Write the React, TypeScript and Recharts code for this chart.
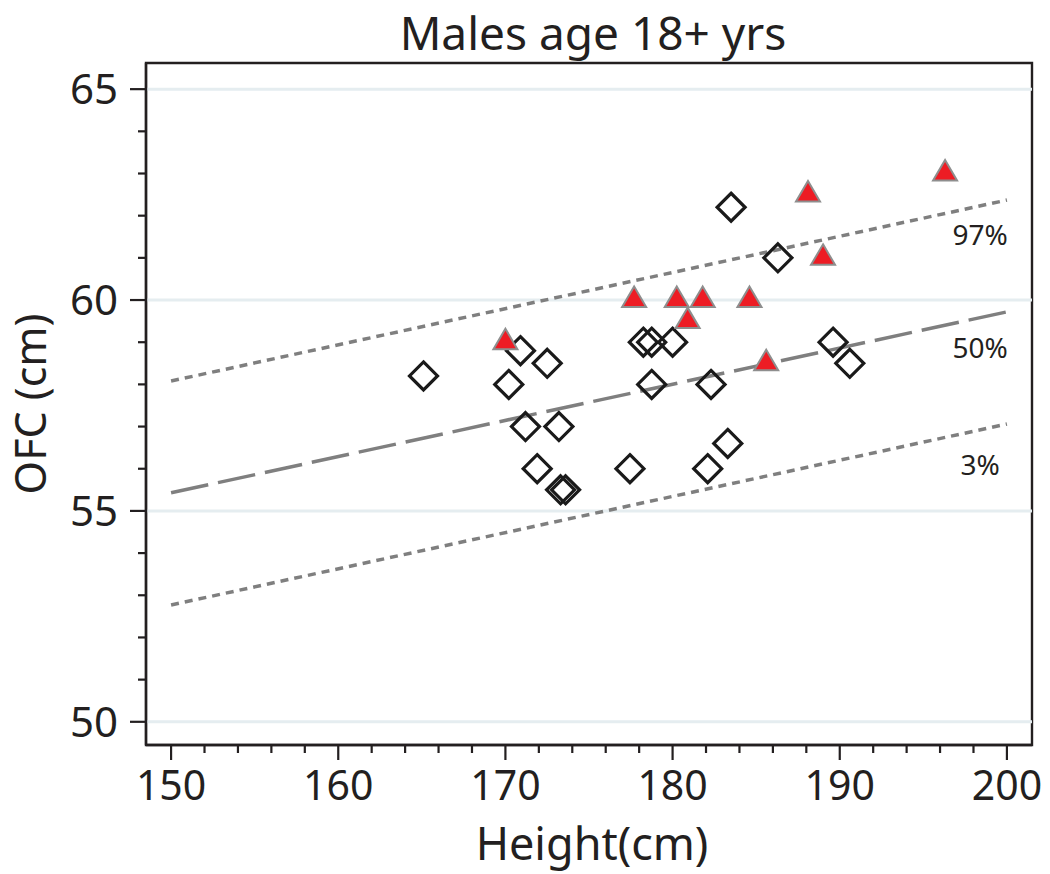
import React from 'react';
import {
  ScatterChart,
  Scatter,
  XAxis,
  YAxis,
  ReferenceLine,
  ReferenceArea,
  ReferenceDot,
} from 'recharts';

// ---------- data ----------
const diamondX = [165.1, 170.2, 170.9, 172.5, 171.2, 173.2, 171.9, 173.3, 173.6, 177.45, 178.25, 178.75, 180.0, 178.75, 182.3, 182.1, 183.3, 183.5, 186.3, 189.6, 190.6];
const diamondY = [58.2, 58.0, 58.8, 58.5, 57.0, 57.0, 56.0, 55.5, 55.5, 56.0, 59.0, 59.0, 59.0, 58.0, 58.0, 56.0, 56.6, 62.2, 61.0, 59.0, 58.5];

const triangleX = [170.0, 177.7, 180.25, 181.8, 184.6, 180.9, 185.6, 188.1, 189.0, 196.3];
const triangleY = [59.0, 60.0, 60.0, 60.0, 60.0, 59.5, 58.5, 62.5, 61.0, 63.0];

const percentileNames = ['97%', '50%', '3%'];
const percentileStartX = 150;
const percentileEndX = 200;
const percentileStartY = [58.08, 55.43, 52.77];
const percentileEndY = [62.37, 59.72, 57.06];
const percentileLabelX = [198.4, 198.4, 198.4];
const percentileLabelY = [61.54, 58.86, 56.09];

const xTicks = [150, 152, 154, 156, 158, 160, 162, 164, 166, 168, 170, 172, 174, 176, 178, 180, 182, 184, 186, 188, 190, 192, 194, 196, 198, 200];
const yTicks = [50, 51, 52, 53, 54, 55, 56, 57, 58, 59, 60, 61, 62, 63, 64, 65];
const gridValues = [50, 55, 60, 65];

const xDomain = [148.5, 201.5];
const yDomain = [49.45, 65.62];

const title = 'Males age 18+ yrs';
const xLabel = 'Height(cm)';
const yLabel = 'OFC (cm)';

// ---------- build series ----------
const diamonds = diamondX.map((x, i) => ({ x, y: diamondY[i] }));
const triangles = triangleX.map((x, i) => ({ x, y: triangleY[i] }));

const FONT = '"Noto Sans", "Open Sans", sans-serif';
const INK = '#231f20';

const XTick = (props: any) => {
  const { x, y, payload } = props;
  const major = payload.value % 10 === 0;
  return (
    <g>
      <line x1={x} x2={x} y1={y} y2={y + (major ? 15 : 8)} stroke={INK} strokeWidth={2.2} />
      {major && (
        <text x={x} y={y + 55} textAnchor="middle" fontSize={41} fontFamily={FONT} fill={INK}>
          {payload.value}
        </text>
      )}
    </g>
  );
};

const YTick = (props: any) => {
  const { x, y, payload } = props;
  const major = payload.value % 5 === 0;
  return (
    <g>
      <line x1={x} x2={x - (major ? 16 : 8)} y1={y} y2={y} stroke={INK} strokeWidth={2.2} />
      {major && (
        <text x={x - 28} y={y + 15} textAnchor="end" fontSize={42} fontFamily={FONT} fill={INK}>
          {payload.value}
        </text>
      )}
    </g>
  );
};

const Diamond = (props: any) => {
  const { cx, cy } = props;
  const r = 14;
  return (
    <polygon
      points={`${cx},${cy - r} ${cx + r},${cy} ${cx},${cy + r} ${cx - r},${cy}`}
      fill="none"
      stroke="#1a1a1a"
      strokeWidth={3.2}
    />
  );
};

const Triangle = (props: any) => {
  const { cx, cy } = props;
  const hw = 12;
  return (
    <polygon
      points={`${cx},${cy - 13.5} ${cx + hw},${cy + 7} ${cx - hw},${cy + 7}`}
      fill="#ed1c24"
      stroke="#8e8e8e"
      strokeWidth={2}
      strokeLinejoin="miter"
    />
  );
};

export default function App() {
  return (
    <div style={{ position: 'absolute', left: 0, top: 0, width: 1050, height: 874, background: '#fff' }}>
      <ScatterChart width={1050} height={874} margin={{ top: 63, right: 18, bottom: 0, left: 0 }}>
        <XAxis
          type="number"
          dataKey="x"
          domain={xDomain}
          ticks={xTicks}
          interval={0}
          allowDataOverflow
          height={129}
          tickLine={false}
          tickSize={0}
          tickMargin={0}
          tick={<XTick />}
          axisLine={{ stroke: INK, strokeWidth: 2.4 }}
        />
        <YAxis
          type="number"
          dataKey="y"
          domain={yDomain}
          ticks={yTicks}
          interval={0}
          allowDataOverflow
          width={146}
          tickLine={false}
          tickSize={0}
          tickMargin={0}
          tick={<YTick />}
          axisLine={{ stroke: INK, strokeWidth: 2.4 }}
        />
        {gridValues.map((v) => (
          <ReferenceLine key={`g${v}`} y={v} stroke="#e5edf0" strokeWidth={3} />
        ))}
        <ReferenceArea
          x1={xDomain[0]}
          x2={xDomain[1]}
          y1={yDomain[0]}
          y2={yDomain[1]}
          fill="none"
          fillOpacity={0}
          stroke={INK}
          strokeWidth={2.4}
          ifOverflow="visible"
        />
        {percentileNames.map((name, i) => (
          <ReferenceLine
            key={`p${name}`}
            segment={[
              { x: percentileStartX, y: percentileStartY[i] },
              { x: percentileEndX, y: percentileEndY[i] },
            ]}
            stroke="#7f7f7f"
            strokeWidth={3.5}
            strokeDasharray={name === '50%' ? '38 10' : '8 6'}
          />
        ))}
        {percentileNames.map((name, i) => (
          <ReferenceDot
            key={`l${name}`}
            x={percentileLabelX[i]}
            y={percentileLabelY[i]}
            r={0}
            fill="none"
            stroke="none"
            label={{ value: name, position: 'center', fontSize: 28, fontFamily: FONT, fill: INK }}
          />
        ))}
        <Scatter data={diamonds} shape={Diamond} isAnimationActive={false} />
        <Scatter data={triangles} shape={Triangle} isAnimationActive={false} />
      </ScatterChart>
      <svg
        width={1050}
        height={874}
        style={{ position: 'absolute', left: 0, top: 0, pointerEvents: 'none' }}
      >
        <text x={593} y={49.5} textAnchor="middle" fontSize={46} fontFamily={FONT} fill={INK}>
          {title}
        </text>
        <text x={592} y={860} textAnchor="middle" fontSize={45} fontFamily={FONT} fill={INK}>
          {xLabel}
        </text>
        <text
          transform="translate(46, 404) rotate(-90)"
          textAnchor="middle"
          fontSize={43}
          fontFamily={FONT}
          fill={INK}
        >
          {yLabel}
        </text>
      </svg>
    </div>
  );
}
